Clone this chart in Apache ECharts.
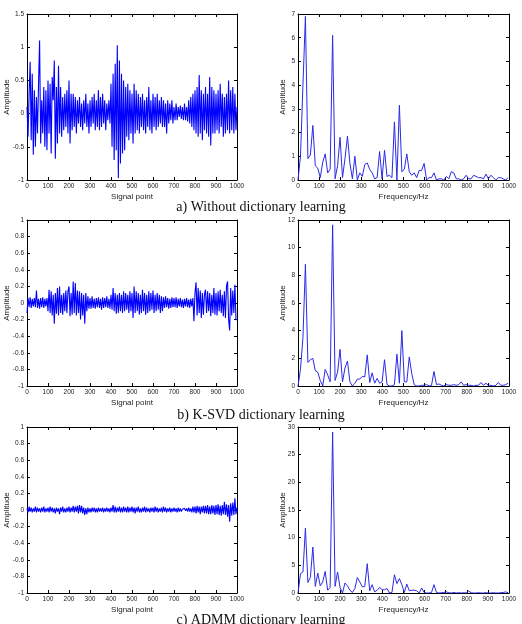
<!DOCTYPE html>
<html>
<head>
<meta charset="utf-8">
<script src="https://cdn.jsdelivr.net/npm/echarts@6/dist/echarts.min.js"></script>
<style>
html, body { margin: 0; padding: 0; background: #fff; }
#main { width: 522px; height: 624px; }
</style>
</head>
<body>
<div id="main"></div>
<script>
// time signals, one value every 5 samples (0..1000)
var signalA = [
    0.1, -0.35, 0.3, 0.78, -0.4, 0.6, -0.62, 0.35, -0.5, 0.25,
    -0.3, 0.45, 1.1, -0.45, 0.2, -0.3, 0.4, -0.5, 0.35, -0.55,
    0.5, -0.3, 0.45, -0.6, 0.55, 0.2, 0.8, -0.68, 0.4, -0.45,
    0.72, -0.3, 0.4, -0.35, 0.25, -0.25, 0.3, -0.2, 0.35, -0.3,
    0.5, -0.45, 0.3, -0.25, 0.3, -0.2, 0.25, -0.3, 0.2, -0.15,
    0.25, -0.2, 0.15, -0.25, 0.2, -0.15, 0.3, -0.2, 0.15, -0.3,
    0.2, -0.2, 0.25, -0.15, 0.3, -0.25, 0.2, -0.2, 0.35, -0.25,
    0.25, -0.2, 0.3, -0.15, 0.2, -0.25, 0.15, -0.1, 0.2, -0.15,
    0.45, -0.5, 0.6, -0.7, 0.75, -0.55, 1.03, -0.97, 0.8, -0.75,
    0.6, -0.6, 0.5, -0.55, 0.4, -0.35, 0.45, -0.4, 0.35, -0.3,
    0.3, -0.45, 0.45, -0.3, 0.35, -0.25, 0.3, -0.3, 0.25, -0.2,
    0.3, -0.25, 0.2, -0.3, 0.25, -0.2, 0.4, -0.25, 0.2, -0.3,
    0.3, -0.2, 0.25, -0.25, 0.3, -0.2, 0.2, -0.15, 0.25, -0.2,
    0.2, -0.2, 0.15, -0.3, 0.2, -0.15, 0.15, -0.1, 0.2, -0.15,
    0.1, -0.1, 0.15, -0.1, 0.1, -0.05, 0.12, -0.08, 0.1, -0.1,
    0.15, -0.1, 0.1, -0.12, 0.2, -0.15, 0.25, -0.2, 0.3, -0.25,
    0.35, -0.3, 0.4, -0.35, 0.58, -0.3, 0.35, -0.4, 0.3, -0.25,
    0.4, -0.3, 0.3, -0.35, 0.55, -0.48, 0.4, -0.3, 0.35, -0.3,
    0.3, -0.25, 0.35, -0.3, 0.45, -0.2, 0.3, -0.35, 0.25, -0.3,
    0.3, -0.25, 0.5, -0.3, 0.35, -0.25, 0.4, -0.3, 0.3, -0.25,
    0.1
];
var signalB = [
    -0.12, 0.06, -0.05, 0.07, -0.06, 0.05, -0.04, 0.06, -0.05, 0.15,
    -0.06, 0.05, -0.07, 0.06, -0.05, 0.07, -0.06, 0.05, -0.04, 0.06,
    -0.1, 0.16, -0.12, 0.14, -0.15, 0.1, -0.25, 0.12, -0.13, 0.18,
    -0.15, 0.2, -0.12, 0.1, -0.14, 0.12, -0.1, 0.15, -0.12, 0.14,
    0.2, -0.16, 0.12, -0.14, 0.26, -0.12, 0.24, -0.15, 0.15, -0.12,
    0.14, -0.2, 0.12, -0.15, 0.1, -0.25, 0.12, -0.1, 0.08, -0.07,
    0.06, -0.07, 0.08, -0.06, 0.05, -0.07, 0.06, -0.05, 0.07, -0.06,
    0.05, -0.08, 0.07, -0.06, 0.06, -0.05, 0.08, -0.06, 0.05, -0.07,
    0.1, -0.08, 0.18, -0.1, 0.12, -0.13, 0.1, -0.12, 0.12, -0.1,
    0.1, -0.12, 0.14, -0.1, 0.12, -0.08, 0.1, -0.12, 0.14, -0.1,
    0.12, -0.18, 0.2, -0.12, 0.14, -0.1, 0.12, -0.14, 0.1, -0.12,
    0.16, -0.1, 0.12, -0.14, 0.1, -0.12, 0.14, -0.1, 0.12, -0.08,
    0.15, -0.12, 0.1, -0.1, 0.12, -0.08, 0.1, -0.12, 0.08, -0.1,
    0.07, -0.06, 0.08, -0.05, 0.06, -0.07, 0.05, -0.06, 0.07, -0.05,
    0.06, -0.05, 0.07, -0.06, 0.05, -0.04, 0.06, -0.05, 0.04, -0.06,
    0.05, -0.04, 0.06, -0.05, 0.04, -0.06, 0.05, -0.04, 0.06, -0.22,
    0.12, 0.25, -0.15, 0.18, -0.12, 0.15, -0.18, 0.12, -0.14, 0.1,
    0.16, -0.12, 0.14, -0.1, 0.12, -0.16, 0.1, -0.12, 0.18, -0.14,
    0.12, -0.15, 0.14, -0.1, 0.16, -0.12, 0.1, -0.16, 0.14, -0.18,
    0.2, 0.26, -0.2, -0.33, 0.18, -0.15, 0.15, -0.12, 0.22, -0.2,
    -0.2
];
var signalC = [
    0.02, -0.03, 0.04, -0.02, 0.03, -0.03, 0.02, -0.02, 0.04, -0.03,
    0.03, -0.02, 0.02, -0.03, 0.03, -0.02, 0.04, -0.03, 0.02, -0.02,
    0.03, -0.03, 0.04, -0.02, 0.03, -0.03, 0.02, -0.04, 0.03, -0.02,
    0.02, -0.05, 0.03, -0.02, 0.04, -0.03, 0.02, -0.03, 0.03, -0.02,
    0.04, -0.03, 0.03, -0.02, 0.05, -0.03, 0.04, -0.02, 0.05, -0.04,
    0.06, -0.03, 0.05, -0.04, 0.03, -0.06, 0.02, -0.05, 0.03, -0.03,
    0.02, -0.03, 0.03, -0.02, 0.03, -0.03, 0.02, -0.03, 0.03, -0.02,
    0.02, -0.02, 0.03, -0.03, 0.02, -0.02, 0.03, -0.02, 0.02, -0.03,
    0.03, -0.02, 0.06, -0.03, 0.04, -0.03, 0.03, -0.02, 0.04, -0.03,
    0.03, -0.03, 0.04, -0.02, 0.03, -0.03, 0.04, -0.03, 0.03, -0.02,
    0.04, -0.03, 0.03, -0.04, 0.03, -0.02, 0.04, -0.03, 0.02, -0.03,
    0.03, -0.02, 0.04, -0.03, 0.03, -0.02, 0.02, -0.03, 0.03, -0.02,
    0.03, -0.03, 0.04, -0.02, 0.03, -0.03, 0.02, -0.02, 0.03, -0.03,
    0.04, -0.02, 0.03, -0.03, 0.02, -0.02, 0.03, -0.03, 0.02, -0.02,
    0.03, -0.02, 0.02, -0.03, 0.03, -0.02, 0.02, -0.02, 0.01, -0.01,
    0.02, -0.01, 0.02, -0.02, 0.03, -0.02, 0.02, -0.03, 0.04, -0.03,
    0.04, -0.04, 0.05, -0.03, 0.04, -0.05, 0.04, -0.03, 0.05, -0.04,
    0.05, -0.04, 0.06, -0.05, 0.04, -0.05, 0.06, -0.04, 0.05, -0.06,
    0.06, -0.05, 0.07, -0.06, 0.05, -0.07, 0.06, -0.05, 0.1, -0.06,
    0.07, -0.08, 0.06, -0.14, 0.08, -0.07, 0.09, -0.06, 0.14, -0.05,
    0.03
];

// spectra, one value per FFT bin (bin width 12000/1024 Hz)
var spectrumA = [
    0, 1.0, 4.0, 6.9, 0.9, 1.05, 2.3, 0.6, 0.5, 0.1,
    0.75, 1.1, 0.3, 0.45, 6.1, 0.05, 0.6, 1.8, 0.1, 0.9,
    1.85, 0.7, 0.05, 1.0, 0.0, 0.3, 0.15, 0.65, 0.72, 0.45,
    0.3, 0.05, 0.1, 1.2, 0.05, 1.25, 0.15, 0.2, 0.1, 2.45,
    0.0, 3.15, 0.35, 0.45, 1.1, 0.35, 0.2, 0.3, 0.1, 0.4,
    0.4, 0.7, 0.0, 0.1, 0.1, 0.3, 0.0, 0.05, 0.05, 0.0,
    0.15, 0.05, 0.35, 0.3, 0.05, 0.05, 0.0, 0.05, 0.2, 0.05,
    0.05, 0.2, 0.15, 0.1, 0.1, 0.05, 0.25, 0.05, 0.2, 0.1,
    0.0, 0.1, 0.1, 0.05, 0.0, 0.1
];
var spectrumB = [
    0, 1.2, 3.5, 8.8, 1.7, 1.9, 2.0, 1.1, 1.0, 0.4,
    0.0, 1.2, 0.8, 0.3, 11.65, 0.4, 1.0, 2.65, 0.3, 1.3,
    1.8, 0.3, 0.0, 0.2, 0.5, 0.5, 0.7, 0.65, 2.25, 0.25,
    0.95, 0.2, 0.55, 0.2, 0.3, 1.9, 0.1, 0.0, 0.0, 0.1,
    2.3, 0.2, 4.0, 0.3, 0.3, 2.1, 0.9, 0.1, 0.0, 0.0,
    0.05, 0.05, 0.1, 0.0, 0.05, 1.05, 0.1, 0.15, 0.05, 0.0,
    0.1, 0.05, 0.05, 0.1, 0.05, 0.1, 0.3, 0.05, 0.1, 0.05,
    0.05, 0.0, 0.05, 0.05, 0.25, 0.05, 0.2, 0.05, 0.05, 0.0,
    0.05, 0.25, 0.05, 0.05, 0.1, 0.2
];
var spectrumC = [
    0, 3.5, 3.8, 11.7, 1.9, 2.8, 8.3, 1.2, 3.6, 1.3,
    2.0, 3.9, 0.5, 1.0, 29.1, 1.2, 3.8, 1.0, 0.0, 1.8,
    1.3, 0.5, 0.1, 0.8, 2.8, 2.0, 1.1, 1.2, 5.3, 0.4,
    1.5, 0.2, 0.5, 1.0, 0.6, 0.6, 0.8, 0.0, 0.1, 3.3,
    1.7, 2.6, 1.5, 0.1, 1.6, 0.4, 0.5, 0.5, 0.4, 0.0,
    0.9, 0.1, 0.0, 0.0, 0.1, 1.5, 0.1, 0.0, 0.05, 0.1,
    0.2, 0.05, 0.0, 0.1, 0.0, 0.05, 0.0, 0.05, 0.0, 0.35,
    0.05, 0.0, 0.0, 0.05, 0.0, 0.0, 0.05, 0.0, 0.0, 0.05,
    0.0, 0.0, 0.05, 0.1, 0.2, 0.05
];

var captions = ['a) Without dictionary learning', 'b) K-SVD dictionary learning', 'c) ADMM dictionary learning'];

var sampleStep = 5;
var binWidth = 12000 / 1024;

function toPairs(values, step) {
    return values.map(function (v, i) { return [i * step, v]; });
}

// left column: time signals, right column: spectra
var panels = [
    {box: [27, 14, 210, 166], data: toPairs(signalA, sampleStep), xName: 'Signal point', yMin: -1, yMax: 1.5, yStep: 0.5, nameGap: 16, width: 1.1},
    {box: [298, 14, 211, 166], data: toPairs(spectrumA, binWidth), xName: 'Frequency/Hz', yMin: 0, yMax: 7, yStep: 1, nameGap: 11, width: 1},
    {box: [27, 220, 210, 166], data: toPairs(signalB, sampleStep), xName: 'Signal point', yMin: -1, yMax: 1, yStep: 0.2, nameGap: 16, width: 1.1},
    {box: [298, 220, 211, 166], data: toPairs(spectrumB, binWidth), xName: 'Frequency/Hz', yMin: 0, yMax: 12, yStep: 2, nameGap: 11, width: 1},
    {box: [27, 427, 210, 166], data: toPairs(signalC, sampleStep), xName: 'Signal point', yMin: -1, yMax: 1, yStep: 0.2, nameGap: 16, width: 1.1},
    {box: [298, 427, 211, 166], data: toPairs(spectrumC, binWidth), xName: 'Frequency/Hz', yMin: 0, yMax: 30, yStep: 5, nameGap: 11, width: 1}
];

var font = 'Liberation Sans, Arial, sans-serif';
var lineStyleBox = {color: '#000', width: 1};
var tickStyle = {show: true, inside: true, length: 3, lineStyle: {color: '#000'}};
var labelStyle = {fontSize: 6.5, color: '#222', fontFamily: font, margin: 3, formatter: function (v) { return String(v); }};

var option = {
    animation: false,
    backgroundColor: '#fff',
    grid: [],
    xAxis: [],
    yAxis: [],
    series: [],
    title: []
};

panels.forEach(function (p, i) {
    option.grid.push({left: p.box[0], top: p.box[1], width: p.box[2], height: p.box[3], show: false});

    // bottom + top axes (top one just for the inside ticks)
    option.xAxis.push({
        type: 'value', gridIndex: i, min: 0, max: 1000, interval: 100,
        position: 'bottom',
        name: p.xName, nameLocation: 'middle', nameGap: 13, nameMoveOverlap: false,
        nameTextStyle: {fontSize: 8, color: '#222', fontFamily: font},
        axisLine: {show: true, onZero: false, lineStyle: lineStyleBox},
        axisTick: tickStyle, axisLabel: labelStyle, splitLine: {show: false}
    });
    option.xAxis.push({
        type: 'value', gridIndex: i, min: 0, max: 1000, interval: 100,
        position: 'top',
        axisLine: {show: true, onZero: false, lineStyle: lineStyleBox},
        axisTick: tickStyle, axisLabel: {show: false}, splitLine: {show: false}
    });

    option.yAxis.push({
        type: 'value', gridIndex: i, min: p.yMin, max: p.yMax, interval: p.yStep,
        position: 'left',
        name: 'Amplitude', nameLocation: 'middle', nameGap: p.nameGap, nameMoveOverlap: false,
        nameTextStyle: {fontSize: 8, color: '#222', fontFamily: font},
        axisLine: {show: true, onZero: false, lineStyle: lineStyleBox},
        axisTick: tickStyle, axisLabel: labelStyle, splitLine: {show: false}
    });
    option.yAxis.push({
        type: 'value', gridIndex: i, min: p.yMin, max: p.yMax, interval: p.yStep,
        position: 'right',
        axisLine: {show: true, onZero: false, lineStyle: lineStyleBox},
        axisTick: tickStyle, axisLabel: {show: false}, splitLine: {show: false}
    });

    option.series.push({
        type: 'line',
        xAxisIndex: i * 2,
        yAxisIndex: i * 2,
        data: p.data,
        showSymbol: false,
        lineStyle: {color: i % 2 === 0 ? '#0000ff' : '#2a2ae6', width: p.width},
        silent: true
    });
});

var captionTops = [200, 408, 613];
captions.forEach(function (c, i) {
    option.title.push({
        text: c, left: 'center', top: captionTops[i], padding: 0,
        textStyle: {fontSize: 14, fontWeight: 'normal', color: '#111', fontFamily: 'Liberation Serif, Times New Roman, serif'}
    });
});

var myChart = echarts.init(document.getElementById('main'));
myChart.setOption(option);
</script>
</body>
</html>
